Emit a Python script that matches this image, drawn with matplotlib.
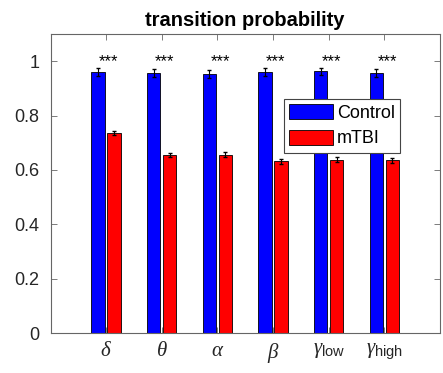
import numpy as np
import matplotlib
matplotlib.use('Agg')
import matplotlib.pyplot as plt

plt.rcParams['font.family'] = ['Liberation Sans', 'DejaVu Sans']
plt.rcParams['mathtext.fontset'] = 'custom'
plt.rcParams['mathtext.it'] = 'Liberation Serif:italic'
plt.rcParams['mathtext.rm'] = 'Liberation Sans'

# transition probability per frequency band
bands = [r'$\delta$', r'$\theta$', r'$\alpha$', r'$\beta$',
         r'$\gamma_{\mathrm{low}}$', r'$\gamma_{\mathrm{high}}$']
control = [0.960, 0.957, 0.954, 0.960, 0.962, 0.957]
control_err = [0.015, 0.014, 0.015, 0.015, 0.014, 0.015]
mtbi = [0.735, 0.654, 0.656, 0.631, 0.637, 0.636]
mtbi_err = [0.008, 0.008, 0.010, 0.008, 0.009, 0.009]
signif = ['***'] * 6

x = np.arange(1, len(bands) + 1)
w = 0.24
off = 0.143

fig = plt.figure(figsize=(4.43, 3.73), dpi=100)
ax = fig.add_axes([0.114, 0.107, 0.879, 0.802])

ax.bar(x - off, control, w, color='#0000ff', edgecolor='black', linewidth=0.6, label='Control')
ax.bar(x + off, mtbi, w, color='#ff0000', edgecolor='black', linewidth=0.6, label='mTBI')
ax.errorbar(x - off, control, yerr=control_err, fmt='none', ecolor='black', elinewidth=0.8, capsize=1.5)
ax.errorbar(x + off, mtbi, yerr=mtbi_err, fmt='none', ecolor='black', elinewidth=0.8, capsize=1.5)

for xi, s in zip(x, signif):
    ax.text(xi + 0.05, 1.0, s, ha='center', va='center', fontsize=12)

ax.set_xlim(0, 7)
ax.set_ylim(0, 1.1)
ax.set_xticks(x)
ax.set_xticklabels(bands, fontsize=15)
ax.set_yticks([0, 0.2, 0.4, 0.6, 0.8, 1.0])
ax.set_yticklabels(['0', '0.2', '0.4', '0.6', '0.8', '1'], fontsize=13)
ax.tick_params(direction='in', top=True, right=True, length=4, width=0.6,
               color='#666666', labelcolor='#262626', pad=8)
ax.tick_params(axis='x', pad=6)
for sp in ax.spines.values():
    sp.set_color('#666666')
    sp.set_linewidth(0.8)

ax.set_title('transition probability', fontsize=14.5, fontweight='bold', pad=6)

leg = ax.legend(loc='upper left', bbox_to_anchor=(0.5995, 0.7836), borderaxespad=0,
                fontsize=13, handlelength=2.4, handleheight=0.92, labelspacing=0.42,
                handletextpad=0.24, borderpad=0.3, fancybox=False, framealpha=1)
leg.get_frame().set_edgecolor('#444444')
leg.get_frame().set_linewidth(0.8)

fig.savefig('out.png', dpi=100)
